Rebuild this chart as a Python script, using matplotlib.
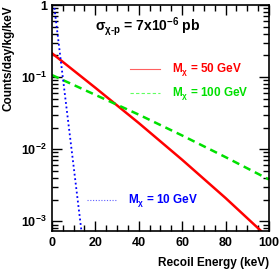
import numpy as np
import matplotlib.pyplot as plt
from matplotlib.ticker import FixedLocator, MultipleLocator, LogLocator, NullFormatter

plt.rcParams['font.family'] = ['Liberation Sans', 'DejaVu Sans']
plt.rcParams['font.weight'] = 'bold'
plt.rcParams['mathtext.fontset'] = 'custom'
plt.rcParams['mathtext.rm'] = 'Liberation Sans:bold'
plt.rcParams['mathtext.bf'] = 'Liberation Sans:bold'
plt.rcParams['mathtext.it'] = 'Liberation Sans:bold'
plt.rcParams['mathtext.default'] = 'bf'

# Recoil spectra
E_50 = [0, 20, 40, 60, 80, 100]
rate_50 = [0.215, 0.0713, 0.0231, 0.00713, 0.0021, 0.00058]

E_100 = [0, 20, 40, 60, 80, 100]
rate_100 = [0.107, 0.0568, 0.0302, 0.0155, 0.00776, 0.0038]

E_10 = [0, 5, 10, 15]
rate_10 = [1.78, 0.101, 0.0058, 0.00033]

y_ticks = [1e-3, 1e-2, 1e-1, 1]
y_labels = [r'$10^{-3}$', r'$10^{-2}$', r'$10^{-1}$', '1']

fig = plt.figure(figsize=(2.79, 2.69), dpi=100)
ax = fig.add_axes([0.186, 0.141, 0.778, 0.840])

ax.plot(E_50, rate_50, color='#ff0000', lw=1.8)
ax.plot(E_100, rate_100, color='#00e000', lw=1.8, ls=(0, (3, 2)))
ax.plot(E_10, rate_10, color='#0000ff', lw=1.3, ls=(0, (1, 1.5)))

ax.set_yscale('log')
ax.set_xlim(0, 100)
ax.set_ylim(7.3e-4, 1)

ax.xaxis.set_major_locator(MultipleLocator(20))
ax.xaxis.set_minor_locator(MultipleLocator(5))
ax.yaxis.set_major_locator(FixedLocator(y_ticks))
ax.set_yticklabels(y_labels)
ax.yaxis.set_minor_locator(LogLocator(base=10, subs=np.arange(2, 10)))
ax.yaxis.set_minor_formatter(NullFormatter())

ax.tick_params(which='both', direction='in', top=True, right=True, width=1, labelsize=9)
ax.tick_params(which='major', length=7)
ax.tick_params(which='minor', length=4)
ax.tick_params(axis='x', pad=4)
for s in ax.spines.values():
    s.set_linewidth(1.2)

ax.set_xlabel('Recoil Energy (keV)', fontsize=8.5, fontweight='bold', loc='right', labelpad=6)
ax.set_ylabel('Counts/day/kg/keV', fontsize=8.5, fontweight='bold', loc='top', labelpad=5)

ax.text(0.198, 0.905, r'$\sigma_{\chi\text{-}p}$ = 7x10$^{-6}$ pb', transform=ax.transAxes,
        fontsize=10, fontweight='bold', va='center')

# legend entries
ax.plot([0.36, 0.50], [0.717, 0.717], transform=ax.transAxes, color='#ff6060', lw=0.8)
ax.text(0.553, 0.717, r'M$_{\chi}$ = 50 GeV', transform=ax.transAxes, color='#ff0000',
        fontsize=8.5, fontweight='bold', va='center')
ax.plot([0.36, 0.50], [0.611, 0.611], transform=ax.transAxes, color='#60ff60', lw=0.8,
        ls=(0, (3, 2)))
ax.text(0.553, 0.611, r'M$_{\chi}$ = 100 GeV', transform=ax.transAxes, color='#00e000',
        fontsize=8.5, fontweight='bold', va='center')
ax.plot([0.161, 0.30], [0.137, 0.137], transform=ax.transAxes, color='#6060ff', lw=0.8,
        ls=(0, (1, 1.5)))
ax.text(0.35, 0.137, r'M$_{\chi}$ = 10 GeV', transform=ax.transAxes, color='#0000ff',
        fontsize=8.5, fontweight='bold', va='center')

fig.savefig('out.png', dpi=100)
